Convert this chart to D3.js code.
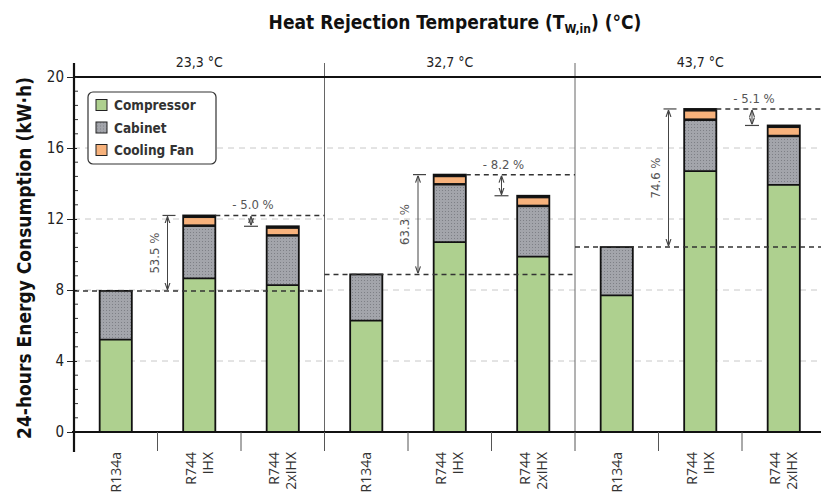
<!DOCTYPE html>
<html>
<head>
<meta charset="utf-8">
<script src="https://cdn.jsdelivr.net/npm/d3@7"></script>
<style>
  html, body { margin: 0; padding: 0; background: #fff; }
  svg { display: block; }
</style>
</head>
<body>
<svg id="chart" width="821" height="497"></svg>
<script>
// Heat rejection temperature groups and refrigerant configurations
const groups = ["23,3 °C", "32,7 °C", "43,7 °C"];
const configs = [["R134a"], ["R744", "IHX"], ["R744", "2xIHX"]];

// 24-hour energy consumption components (kW·h), in group order
const compressor = [5.2, 8.65, 8.28, 6.27, 10.7, 9.88, 7.7, 14.7, 13.92];
const cabinet    = [2.75, 2.9, 2.72, 2.61, 3.18, 2.78, 2.72, 2.82, 2.68];
const coolingFan = [0, 0.65, 0.59, 0, 0.62, 0.65, 0, 0.68, 0.67];

// Percentage annotations per group
const increaseLabels = ["53.5 %", "63.3 %", "74.6 %"];
const decreaseLabels = ["- 5.0 %", "- 8.2 %", "- 5.1 %"];

const yTicks = [0, 4, 8, 12, 16, 20];
const legendItems = ["Compressor", "Cabinet", "Cooling Fan"];

const colors = { Compressor: "#aed08f", Cabinet: "url(#dots)", "Cooling Fan": "#f7b27c" };

const svg = d3.select("#chart");
const M = { left: 74, top: 77, bottom: 432 };
const slotCount = groups.length * configs.length;
const step = 83.5;
const right = M.left + step * slotCount;

const keys = d3.range(slotCount);
const x = d3.scaleBand().domain(keys).range([M.left, right]).padding(0);
const y = d3.scaleLinear().domain([0, 20]).range([M.bottom, M.top]);
const barW = x.bandwidth() * 0.385;

// Stipple pattern for the cabinet segment
const defs = svg.append("defs");
const pat = defs.append("pattern").attr("id", "dots").attr("patternUnits", "userSpaceOnUse")
  .attr("width", 3).attr("height", 3);
pat.append("rect").attr("width", 3).attr("height", 3).attr("fill", "#a3a5ab");
pat.append("rect").attr("x", 1).attr("y", 1).attr("width", 1).attr("height", 1).attr("fill", "#7e8086");

["start", "end"].forEach(k => {
  const m = defs.append("marker").attr("id", "arr-" + k)
    .attr("viewBox", "0 0 10 10").attr("refX", 10).attr("refY", 5)
    .attr("markerWidth", 7).attr("markerHeight", 7)
    .attr("orient", k === "start" ? "auto-start-reverse" : "auto");
  m.append("path").attr("d", "M0,1.5 L10,5 L0,8.5").attr("fill", "none")
    .attr("stroke", "#444").attr("stroke-width", 1.6);
});

const condensed = "'DejaVu Sans Condensed', 'DejaVu Sans', sans-serif";

// Light dashed grid
svg.append("g").selectAll("line").data(yTicks.filter(t => t > 0 && t < 20)).join("line")
  .attr("x1", M.left).attr("x2", 821).attr("y1", d => y(d)).attr("y2", d => y(d))
  .attr("stroke", "#c8c8c8").attr("stroke-width", 1).attr("stroke-dasharray", "6,5");

// Group dividers extending into the header row
const dividers = d3.range(1, groups.length).map(g => x(g * configs.length));
svg.append("g").selectAll("line").data(dividers).join("line")
  .attr("x1", d => d).attr("x2", d => d).attr("y1", 63).attr("y2", M.bottom)
  .attr("stroke", "#666").attr("stroke-width", 1);

// Group header labels
svg.append("g").selectAll("text").data(groups).join("text")
  .attr("x", (d, i) => x(i * 3) + step * 1.5).attr("y", 67)
  .attr("text-anchor", "middle").attr("font-family", condensed).attr("font-size", 14)
  .attr("fill", "#222").text(d => d);

// Stacked bars
const totals = keys.map(i => compressor[i] + cabinet[i] + coolingFan[i]);
const bars = svg.append("g");
keys.forEach(i => {
  const bx = x(i) + (x.bandwidth() - barW) / 2;
  const c0 = 0, c1 = compressor[i], c2 = c1 + cabinet[i], c3 = c2 + coolingFan[i];
  bars.append("rect").attr("x", bx).attr("width", barW)
    .attr("y", y(c1)).attr("height", y(c0) - y(c1)).attr("fill", colors.Compressor);
  bars.append("rect").attr("x", bx).attr("width", barW)
    .attr("y", y(c2)).attr("height", y(c1) - y(c2)).attr("fill", colors.Cabinet);
  if (coolingFan[i] > 0) {
    const h = y(c2) - y(c3);
    bars.append("rect").attr("x", bx).attr("width", barW)
      .attr("y", y(c3)).attr("height", h).attr("fill", "#141414");
    bars.append("rect").attr("x", bx).attr("width", barW)
      .attr("y", y(c3) + 2.6).attr("height", Math.max(0, h - 5.2)).attr("fill", colors["Cooling Fan"]);
  }
  bars.append("line").attr("x1", bx).attr("x2", bx + barW).attr("y1", y(c1)).attr("y2", y(c1))
    .attr("stroke", "#111").attr("stroke-width", 1.8);
  bars.append("rect").attr("x", bx).attr("width", barW)
    .attr("y", y(c3)).attr("height", y(0) - y(c3))
    .attr("fill", "none").attr("stroke", "#111").attr("stroke-width", 1.8);
});

// Reference lines and percentage arrows
const ann = svg.append("g");
groups.forEach((g, gi) => {
  const i0 = gi * 3, i1 = i0 + 1, i2 = i0 + 2;
  const gx0 = x(i0), gx1 = Math.min(821, x(i2) + step);
  const base = totals[i0], top = totals[i1], low = totals[i2];
  // baseline at R134a total across the group
  ann.append("line").attr("x1", gx0).attr("x2", gx1).attr("y1", y(base)).attr("y2", y(base))
    .attr("stroke", "#333").attr("stroke-width", 1.5).attr("stroke-dasharray", "5,4");
  // line at the IHX total to the right of its bar
  const ihxRight = x(i1) + (x.bandwidth() + barW) / 2;
  ann.append("line").attr("x1", ihxRight).attr("x2", gx1).attr("y1", y(top)).attr("y2", y(top))
    .attr("stroke", "#333").attr("stroke-width", 1.5).attr("stroke-dasharray", "5,4");

  // long double arrow: R134a total -> IHX total
  const ax = x(i1) + 10;
  ann.append("line").attr("x1", ax - 5).attr("x2", ax + 8).attr("y1", y(top)).attr("y2", y(top))
    .attr("stroke", "#444").attr("stroke-width", 1.2);
  ann.append("line").attr("x1", ax).attr("x2", ax).attr("y1", y(base) - 1).attr("y2", y(top) + 1)
    .attr("stroke", "#444").attr("stroke-width", 1)
    .attr("marker-start", "url(#arr-start)").attr("marker-end", "url(#arr-end)");
  ann.append("text")
    .attr("transform", `translate(${ax - 9},${(y(base) + y(top)) / 2}) rotate(-90)`)
    .attr("text-anchor", "middle").attr("font-family", condensed).attr("font-size", 13)
    .attr("fill", "#555").text(increaseLabels[gi]);

  // short double arrow: IHX total -> 2xIHX total
  const sx = x(i2) + 10;
  ann.append("line").attr("x1", sx - 7).attr("x2", sx + 7).attr("y1", y(low)).attr("y2", y(low))
    .attr("stroke", "#444").attr("stroke-width", 1.2);
  ann.append("line").attr("x1", sx).attr("x2", sx).attr("y1", y(top) + 1).attr("y2", y(low) - 1)
    .attr("stroke", "#444").attr("stroke-width", 1)
    .attr("marker-start", "url(#arr-start)").attr("marker-end", "url(#arr-end)");
  ann.append("text").attr("x", sx + 2).attr("y", y(top) - 6)
    .attr("text-anchor", "middle").attr("font-family", condensed).attr("font-size", 13)
    .attr("fill", "#555").text(decreaseLabels[gi]);
});

// Frame: top border, left axis and bottom axis
svg.append("line").attr("x1", M.left).attr("x2", 821).attr("y1", M.top).attr("y2", M.top)
  .attr("stroke", "#111").attr("stroke-width", 2.2);

const yAxis = d3.axisLeft(y).tickValues(yTicks).tickSize(6).tickFormat(d3.format("d"));
const ya = svg.append("g").attr("transform", `translate(${M.left},0)`).call(yAxis);
ya.select(".domain").remove();
ya.selectAll(".tick line").attr("stroke", "#222").attr("x2", -7).attr("x1", 3);
ya.selectAll(".tick text").attr("font-family", condensed).attr("font-size", 15)
  .attr("fill", "#222").attr("x", -10);

// minor ticks every 0.8 on the inside of the axis
const minor = d3.range(0, 20.01, 0.8).filter(v => yTicks.indexOf(Math.round(v * 100) / 100) < 0);
svg.append("g").selectAll("line").data(minor).join("line")
  .attr("x1", M.left).attr("x2", M.left + 4).attr("y1", d => y(d)).attr("y2", d => y(d))
  .attr("stroke", "#333").attr("stroke-width", 1);

svg.append("line").attr("x1", M.left).attr("x2", M.left).attr("y1", 63).attr("y2", 452)
  .attr("stroke", "#111").attr("stroke-width", 2.2);
svg.append("line").attr("x1", M.left - 2).attr("x2", 821).attr("y1", M.bottom).attr("y2", M.bottom)
  .attr("stroke", "#111").attr("stroke-width", 2.2);

// Category separators below the axis
svg.append("g").selectAll("line").data(d3.range(1, slotCount)).join("line")
  .attr("x1", d => x(d)).attr("x2", d => x(d)).attr("y1", M.bottom).attr("y2", 451)
  .attr("stroke", "#555").attr("stroke-width", 1);

// Category labels (rotated)
const catG = svg.append("g");
keys.forEach(i => {
  const lines = configs[i % 3];
  const cx = x(i) + x.bandwidth() / 2;
  lines.forEach((t, li) => {
    const off = (li - (lines.length - 1) / 2) * 17;
    catG.append("text")
      .attr("transform", `translate(${cx + off + 5},452) rotate(-90)`)
      .attr("text-anchor", "end").attr("font-family", "'Open Sans', 'DejaVu Sans', sans-serif")
      .attr("font-size", 14).attr("fill", "#333").text(t);
  });
});

// Legend
const lg = svg.append("g").attr("transform", "translate(88,92)");
lg.append("rect").attr("width", 128).attr("height", 72).attr("rx", 5)
  .attr("fill", "#fff").attr("stroke", "#333").attr("stroke-width", 1.2);
legendItems.forEach((name, k) => {
  const row = lg.append("g").attr("transform", `translate(8,${13 + k * 22.5})`);
  row.append("rect").attr("x", 0).attr("y", -5.5).attr("width", 11).attr("height", 11)
    .attr("fill", colors[name]).attr("stroke", "#222").attr("stroke-width", 1);
  row.append("text").attr("x", 18).attr("y", 5).attr("font-family", condensed)
    .attr("font-weight", "bold").attr("font-size", 13.5).attr("fill", "#333").text(name);
});

// Titles
const title = svg.append("text").attr("x", 455).attr("y", 29).attr("text-anchor", "middle")
  .attr("font-family", condensed).attr("font-weight", "bold").attr("font-size", 19).attr("fill", "#111");
title.append("tspan").text("Heat Rejection Temperature  (T");
title.append("tspan").attr("font-size", 12).attr("dy", 4).text("W,in");
title.append("tspan").attr("dy", -4).text(") (°C)");

svg.append("text").attr("transform", "translate(31,258) rotate(-90)").attr("text-anchor", "middle")
  .attr("font-family", condensed).attr("font-weight", "bold").attr("font-size", 19)
  .attr("fill", "#111").text("24-hours Energy Consumption (kW·h)");
</script>
</body>
</html>
